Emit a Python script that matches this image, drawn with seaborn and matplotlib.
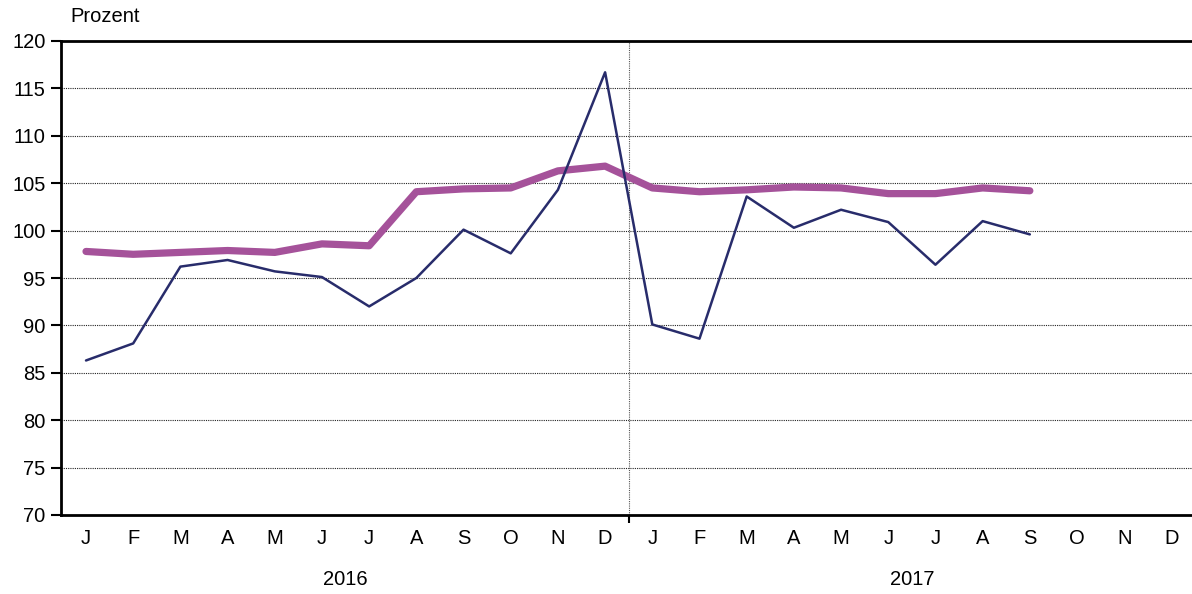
import seaborn as sns
import matplotlib.pyplot as plt
import numpy as np
import pandas as pd

months = ['J', 'F', 'M', 'A', 'M', 'J', 'J', 'A', 'S', 'O', 'N', 'D',
          'J', 'F', 'M', 'A', 'M', 'J', 'J', 'A', 'S', 'O', 'N', 'D']
years = ['2016', '2017']

monthly = [86.3, 88.1, 96.2, 96.9, 95.7, 95.1, 92.0, 95.0, 100.1, 97.6, 104.3, 116.7,
           90.1, 88.6, 103.6, 100.3, 102.2, 100.9, 96.4, 101.0, 99.6]
smoothed = [97.8, 97.5, 97.7, 97.9, 97.7, 98.6, 98.4, 104.1, 104.4, 104.5, 106.3, 106.8,
            104.5, 104.1, 104.3, 104.6, 104.5, 103.9, 103.9, 104.5, 104.2]

sns.set_style('white')
plt.rcParams['font.family'] = ['Liberation Sans', 'DejaVu Sans']
plt.rcParams['text.color'] = 'black'

df = pd.DataFrame({'idx': np.arange(len(monthly)),
                   'monthly': monthly, 'smoothed': smoothed})

fig = plt.figure(figsize=(11.92, 5.94), dpi=100)
ax = fig.add_axes([61 / 1192, 1 - 515 / 594, 1134 / 1192, 474 / 594])

sns.lineplot(data=df, x='idx', y='smoothed', ax=ax, color='#a5529a',
             linewidth=5.2, solid_capstyle='round', zorder=3)
sns.lineplot(data=df, x='idx', y='monthly', ax=ax, color='#282c6b',
             linewidth=1.8, zorder=4)

ax.set_xlim(-0.53, len(months) - 0.5)
ax.set_ylim(70, 120)
ax.set_yticks(np.arange(70, 121, 5))
ax.tick_params(axis='y', labelsize=14.5, length=7, width=1.5, direction='out',
               left=True, pad=4, colors='black')
for v in range(75, 120, 5):
    ax.axhline(v, color='#222222', linewidth=0.8, linestyle=(0, (1, 1)), zorder=1)
ax.axvline(11.5, color='#555555', linewidth=0.8, linestyle=(0, (1, 1)), zorder=1)

# month labels without ticks, tick marks only at year boundary
ax.set_xticks([11.5])
ax.set_xticklabels([''])
ax.tick_params(axis='x', length=6, width=1.5, direction='out', bottom=True,
               colors='black')
for i, m in enumerate(months):
    ax.text(i, -0.03, m, transform=ax.get_xaxis_transform(), ha='center',
            va='top', fontsize=14.5, color='black')
for j, y in enumerate(years):
    ax.text(5.5 + 12 * j, -0.115, y, transform=ax.get_xaxis_transform(),
            ha='center', va='top', fontsize=14.5, color='black')

ax.set_xlabel('')
ax.set_ylabel('')
for s in ['left', 'bottom', 'top']:
    ax.spines[s].set_color('black')
    ax.spines[s].set_linewidth(2)
ax.spines['right'].set_visible(False)

fig.text(70 / 1192, 1 - 17 / 594, 'Prozent', ha='left', va='center',
         fontsize=14.5, color='black')

fig.savefig('out.png', dpi=100)
